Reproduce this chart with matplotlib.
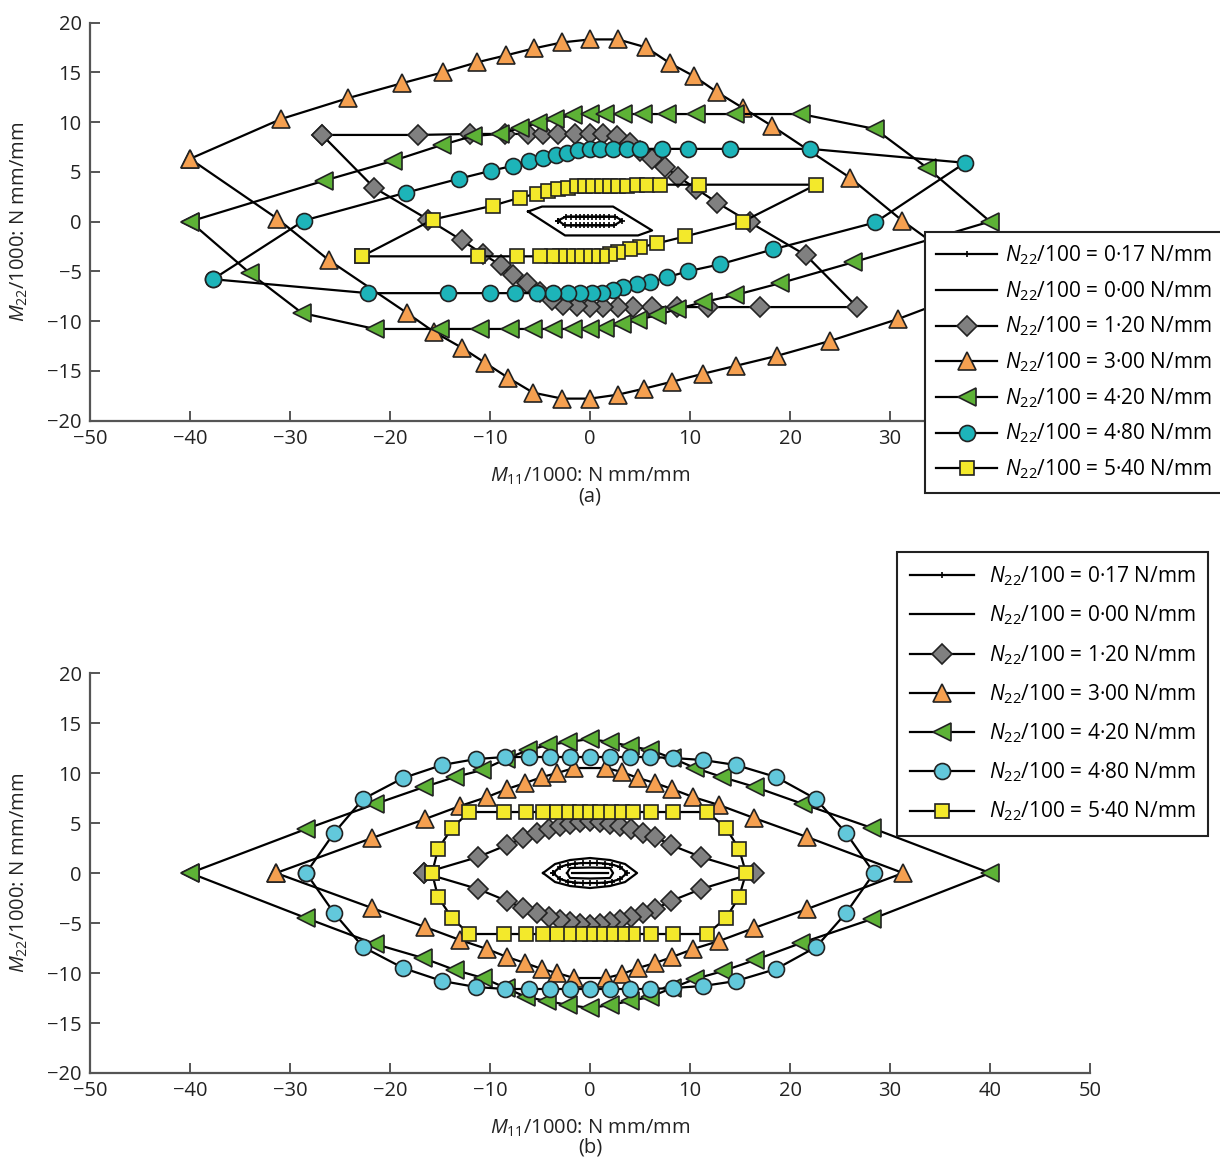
import matplotlib
matplotlib.use("Agg")
import matplotlib.pyplot as plt
import numpy as np

plt.rcParams['font.family'] = ['Open Sans', 'DejaVu Sans']
plt.rcParams['mathtext.fontset'] = 'custom'
plt.rcParams['mathtext.rm'] = 'Open Sans'
plt.rcParams['mathtext.it'] = 'Open Sans:italic'

# legend labels (N22/100 values)
labels = ['0·17', '0·00', '1·20', '3·00', '4·20', '4·80', '5·40']

# ---------------- panel (a) data: closed loops ----------------
a_017_x = [-3.2, -2.4, -1.9, -1.4, -1.0, -0.6, -0.2, 0.2, 0.6, 1.0, 1.4, 1.9, 2.5, 3.2,
           2.4, 1.9, 1.4, 1.0, 0.6, 0.2, -0.2, -0.6, -1.0, -1.4, -1.9, -2.5, -3.2]
a_017_y = [0.1, 0.5, 0.5, 0.5, 0.5, 0.5, 0.5, 0.5, 0.5, 0.5, 0.5, 0.5, 0.5, 0.1,
           -0.4, -0.4, -0.4, -0.4, -0.4, -0.4, -0.4, -0.4, -0.4, -0.4, -0.4, -0.4, 0.1]

a_000_x = [-6.2, -4.8, 2.3, 6.2, 4.8, -2.5, -6.2]
a_000_y = [1.0, 1.5, 1.5, -0.9, -1.4, -1.4, 1.0]

a_120_x = [-26.8, -17.2, -12.0, -8.5, -6.2, -4.7, -3.2, -1.5, 0, 1.3, 2.7, 4.0, 5.0, 6.2, 7.5, 8.8,
           10.6, 12.7, 16.0, 21.6, 26.7,
           17.0, 11.8, 8.7, 6.2, 4.3, 2.8, 1.3, 0, -1.3, -2.7, -3.8, -5.0, -6.3, -7.7, -8.9,
           -10.7, -12.8, -16.2, -21.6, -26.8]
a_120_y = [8.7, 8.7, 8.8, 8.8, 8.8, 8.8, 8.8, 8.8, 8.8, 8.8, 8.6, 7.9, 7.1, 6.3, 5.5, 4.5,
           3.3, 1.9, -0.1, -3.4, -8.6,
           -8.6, -8.6, -8.6, -8.6, -8.6, -8.6, -8.6, -8.6, -8.5, -8.4, -7.9, -7.1, -6.2, -5.4, -4.4,
           -3.3, -1.9, 0.2, 3.4, 8.7]

a_300_x = [-40, -30.9, -24.2, -18.8, -14.7, -11.3, -8.4, -5.6, -2.8, 0, 2.8, 5.6, 8.0, 10.4, 12.7,
           15.3, 18.2, 26.0, 31.2, 40,
           30.8, 24.0, 18.7, 14.6, 11.3, 8.2, 5.4, 2.8, 0, -2.8, -5.7, -8.2, -10.5, -12.8,
           -15.6, -18.3, -26.1, -31.3, -40]
a_300_y = [6.3, 10.3, 12.4, 13.9, 15.0, 16.0, 16.7, 17.4, 18.0, 18.3, 18.3, 17.5, 15.9, 14.6, 13.0,
           11.4, 9.6, 4.4, 0.1, -6.3,
           -9.8, -12.0, -13.5, -14.5, -15.3, -16.1, -16.8, -17.4, -17.8, -17.8, -17.2, -15.7, -14.2, -12.7,
           -11.1, -9.2, -3.9, 0.3, 6.3]

a_420_x = [-40, -26.6, -19.7, -14.8, -11.7, -9.0, -7.0, -5.2, -3.5, -1.7, 0, 1.5, 3.3, 5.3, 7.7,
           10.6, 14.5, 21.1, 28.5, 33.7, 40,
           26.3, 19.0, 14.5, 11.3, 8.7, 6.7, 4.8, 3.2, 1.5, 0, -1.7, -3.7, -5.7, -8.0,
           -11.0, -15.0, -21.5, -28.8, -34.0, -40]
a_420_y = [0, 4.1, 6.1, 7.7, 8.6, 8.8, 9.4, 9.9, 10.3, 10.7, 10.8, 10.8, 10.8, 10.8, 10.8,
           10.8, 10.8, 10.8, 9.3, 5.4, 0,
           -4.1, -6.2, -7.4, -8.1, -8.8, -9.4, -9.9, -10.3, -10.7, -10.8, -10.8, -10.8, -10.8, -10.8,
           -10.8, -10.8, -10.8, -9.2, -5.2, 0]

a_480_x = [-37.7, -28.6, -18.4, -13.1, -9.9, -7.7, -6.1, -4.7, -3.4, -2.3, -1.2, 0, 1.0, 2.3, 3.7,
           5.0, 7.2, 9.8, 14.0, 22.0, 37.5,
           28.5, 18.3, 13.0, 9.8, 7.7, 6.0, 4.7, 3.3, 2.3, 1.2, 0.2, -1.0, -2.2, -3.7,
           -5.3, -7.5, -10.0, -14.2, -22.2, -37.7]
a_480_y = [-5.8, 0.1, 2.9, 4.3, 5.1, 5.6, 6.1, 6.4, 6.7, 6.9, 7.2, 7.3, 7.3, 7.3, 7.3,
           7.3, 7.3, 7.3, 7.3, 7.3, 5.9,
           -0.1, -2.8, -4.3, -5.0, -5.6, -6.1, -6.3, -6.6, -6.9, -7.2, -7.2, -7.2, -7.2, -7.2,
           -7.2, -7.2, -7.2, -7.2, -7.2, -5.8]

a_540_x = [-22.8, -15.7, -9.7, -7.0, -5.3, -4.2, -3.2, -2.2, -1.3, -0.5, 0.3, 1.2, 2.0, 2.8, 3.7,
           4.7, 5.7, 7.0, 10.9, 22.6,
           15.3, 9.5, 6.7, 5.0, 4.0, 2.8, 2.0, 1.2, 0.3, -0.5, -1.3, -2.2, -3.0, -3.8,
           -5.0, -7.3, -11.2, -22.8]
a_540_y = [-3.5, 0.2, 1.6, 2.4, 2.8, 3.1, 3.3, 3.4, 3.6, 3.6, 3.6, 3.6, 3.6, 3.6, 3.6,
           3.7, 3.7, 3.7, 3.7, 3.7,
           0.0, -1.5, -2.2, -2.6, -2.8, -3.1, -3.3, -3.5, -3.5, -3.5, -3.5, -3.5, -3.5, -3.5,
           -3.5, -3.5, -3.5, -3.5]

# ---------------- panel (b) data: closed loops ----------------
b_017_x = [-3.7, -3.0, -2.2, -1.5, -0.7, 0, 0.7, 1.5, 2.2, 3.0, 3.7,
           3.0, 2.2, 1.5, 0.7, 0, -0.7, -1.5, -2.2, -3.0, -3.7]
b_017_y = [0, 0.6, 0.85, 0.95, 1.0, 1.0, 1.0, 0.95, 0.85, 0.6, 0,
           -0.6, -0.85, -0.95, -1.0, -1.0, -1.0, -0.95, -0.85, -0.6, 0]

b_000_x = [-4.7, -3.5, -2.0, 0, 2.0, 3.5, 4.7, 3.5, 2.0, 0, -2.0, -3.5, -4.7, np.nan,
           -2.3, -2.0, 0, 2.0, 2.3, 2.0, 0, -2.0, -2.3, np.nan, -1.8, 1.8]
b_000_y = [0, 0.9, 1.3, 1.5, 1.3, 0.9, 0, -0.9, -1.3, -1.5, -1.3, -0.9, 0, np.nan,
           0, 0.5, 0.55, 0.5, 0, -0.5, -0.55, -0.5, 0, np.nan, 0, 0]

b_120_x = [-16.6, -11.2, -8.3, -6.7, -5.3, -4.1, -3.0, -2.0, -1.0, 0, 1.0, 2.0, 3.0, 4.1, 5.3,
           6.5, 8.1, 11.1, 16.4,
           11.1, 8.1, 6.5, 5.3, 4.1, 3.0, 2.0, 1.0, 0, -1.0, -2.0, -3.0, -4.1, -5.3,
           -6.7, -8.3, -11.2, -16.6]
b_120_y = [0, 1.6, 2.8, 3.5, 4.0, 4.4, 4.7, 4.9, 5.1, 5.2, 5.1, 4.9, 4.7, 4.4, 4.0,
           3.6, 2.8, 1.6, 0,
           -1.6, -2.8, -3.6, -4.0, -4.4, -4.7, -4.9, -5.1, -5.2, -5.1, -4.9, -4.7, -4.4, -4.0,
           -3.5, -2.8, -1.6, 0]

b_300_x = [-31.4, -21.8, -16.5, -13.0, -10.3, -8.3, -6.5, -4.8, -3.3, -1.6, 1.6, 3.2, 4.8, 6.5,
           8.2, 10.3, 12.9, 16.4, 21.7, 31.3,
           21.7, 16.4, 12.9, 10.3, 8.2, 6.5, 4.8, 3.2, 1.6, -1.6, -3.3, -4.8, -6.5,
           -8.3, -10.3, -13.0, -16.5, -21.8, -31.4]
b_300_y = [0, 3.5, 5.4, 6.7, 7.6, 8.4, 9.0, 9.6, 10.0, 10.5, 10.5, 10.1, 9.5, 9.0,
           8.4, 7.6, 6.8, 5.5, 3.6, 0,
           -3.6, -5.5, -6.8, -7.6, -8.4, -9.0, -9.5, -10.1, -10.5, -10.5, -10.0, -9.6, -9.0,
           -8.4, -7.6, -6.7, -5.4, -3.5, 0]

b_420_x = [-40, -28.4, -21.5, -16.6, -13.5, -10.8, -8.4, -6.2, -4.2, -2.2, 0, 2.0, 4.0, 6.0,
           8.2, 10.5, 13.2, 16.5, 21.3, 28.2, 40,
           28.2, 21.1, 16.5, 13.3, 10.5, 8.2, 6.0, 4.0, 2.0, 0, -2.2, -4.3, -6.4,
           -8.4, -10.7, -13.5, -16.7, -21.5, -28.4, -40]
b_420_y = [0, 4.4, 6.9, 8.6, 9.6, 10.3, 11.4, 12.3, 12.8, 13.1, 13.4, 13.1, 12.7, 12.3,
           11.5, 10.5, 9.6, 8.6, 6.9, 4.5, 0,
           -4.6, -7.0, -8.7, -9.8, -10.6, -11.5, -12.4, -12.8, -13.2, -13.5, -13.2, -12.8, -12.4,
           -11.5, -10.5, -9.7, -8.5, -7.1, -4.5, 0]

b_480_x = [-28.4, -25.6, -22.7, -18.7, -14.8, -11.4, -8.5, -6.1, -4.0, -2.0, 0, 2.0, 4.0, 6.0,
           8.3, 11.3, 14.6, 18.6, 22.6, 25.6, 28.4,
           25.6, 22.6, 18.6, 14.6, 11.3, 8.3, 6.0, 4.0, 2.0, 0, -2.0, -4.0, -6.1,
           -8.5, -11.4, -14.8, -18.7, -22.7, -25.6, -28.4]
b_480_y = [0, 4.0, 7.4, 9.5, 10.8, 11.4, 11.6, 11.6, 11.6, 11.6, 11.6, 11.6, 11.6, 11.6,
           11.5, 11.3, 10.8, 9.6, 7.4, 4.0, 0,
           -4.0, -7.4, -9.6, -10.8, -11.3, -11.5, -11.6, -11.6, -11.6, -11.6, -11.6, -11.6, -11.6,
           -11.6, -11.4, -10.8, -9.5, -7.4, -4.0, 0]

b_540_x = [-15.8, -15.2, -13.8, -12.1, -8.6, -6.4, -4.7, -3.3, -2.1, -1.0, 0, 1.0, 2.1, 3.2,
           4.3, 6.1, 8.3, 11.7, 13.6, 14.9, 15.6,
           14.9, 13.6, 11.7, 8.3, 6.1, 4.3, 3.2, 2.1, 1.0, 0, -1.0, -2.1, -3.3,
           -4.7, -6.4, -8.6, -12.1, -13.8, -15.2, -15.8]
b_540_y = [0, 2.4, 4.5, 6.1, 6.1, 6.1, 6.1, 6.1, 6.1, 6.1, 6.1, 6.1, 6.1, 6.1,
           6.1, 6.1, 6.1, 6.1, 4.5, 2.4, 0,
           -2.4, -4.5, -6.1, -6.1, -6.1, -6.1, -6.1, -6.1, -6.1, -6.1, -6.1, -6.1, -6.1,
           -6.1, -6.1, -6.1, -6.1, -4.5, -2.4, 0]

a_series = [(a_017_x, a_017_y), (a_000_x, a_000_y), (a_120_x, a_120_y), (a_300_x, a_300_y),
            (a_420_x, a_420_y), (a_480_x, a_480_y), (a_540_x, a_540_y)]
b_series = [(b_017_x, b_017_y), (b_000_x, b_000_y), (b_120_x, b_120_y), (b_300_x, b_300_y),
            (b_420_x, b_420_y), (b_480_x, b_480_y), (b_540_x, b_540_y)]

# marker styles per series
styles = [
    dict(marker='+', ms=5, mew=1.2),
    dict(marker='None'),
    dict(marker='D', ms=10, mfc='#808080', mec='#222222', mew=1.2),
    dict(marker='^', ms=12.5, mfc='#F5A050', mec='#222222', mew=1.2),
    dict(marker='<', ms=13, mfc='#5DB236', mec='#222222', mew=1.2),
    dict(marker='o', ms=11.5, mfc='#1DB4B9', mec='#222222', mew=1.2),
    dict(marker='s', ms=9.5, mfc='#F3E92B', mec='#222222', mew=1.2),
]
cyan_b = '#62C8DB'
fs = 14.5

fig = plt.figure(figsize=(12.2, 11.6), dpi=100)
ax_a = fig.add_axes([0.0738, 0.6375, 0.8197, 0.3431])
ax_b = fig.add_axes([0.0738, 0.075, 0.8197, 0.3448])


def draw(ax, series, cyan):
    for i, ((xs, ys), lab) in enumerate(zip(series, labels)):
        st = dict(styles[i])
        if i == 5:
            st['mfc'] = cyan
        ax.plot(xs, ys, color='black', lw=1.6, label=r'$N_{22}$/100 = ' + lab + ' N/mm', **st)
    ax.set_xlim(-50, 50)
    ax.set_ylim(-20, 20)
    ax.set_xticks(np.arange(-50, 51, 10))
    ax.set_yticks(np.arange(-20, 21, 5))
    for s in ['top', 'right']:
        ax.spines[s].set_visible(False)
    for s in ['left', 'bottom']:
        ax.spines[s].set_color('#555555')
        ax.spines[s].set_linewidth(1.6)
    ax.tick_params(direction='in', length=7, width=1.4, color='#555555', labelsize=fs,
                   labelcolor='#222222', pad=6)
    ax.set_ylabel(r'$M_{22}$/1000: N mm/mm', fontsize=fs, color='#222222', labelpad=12)
    ax.set_xlabel(r'$M_{11}$/1000: N mm/mm', fontsize=fs, color='#222222', labelpad=12)


draw(ax_a, a_series, '#1DB4B9')
draw(ax_b, b_series, cyan_b)

# in (a) the legend box covers the 40 and 50 tick labels
ax_a.set_xticklabels(['\u221250', '\u221240', '\u221230', '\u221220', '\u221210',
                      '0', '10', '20', '30', '', ''])

fig.text(0.4836, 1 - 497 / 1160, '(a)', ha='center', va='center', fontsize=fs, color='#222222')
fig.text(0.4836, 1 - 1148 / 1160, '(b)', ha='center', va='center', fontsize=fs, color='#222222')

leg_a = ax_a.legend(loc='upper left', bbox_to_anchor=(925 / 1220, 1 - 232 / 1160),
                    bbox_transform=fig.transFigure, borderaxespad=0, fontsize=15,
                    handlelength=2.9, handletextpad=0.4, labelspacing=0.58, borderpad=0.55,
                    fancybox=False, framealpha=1, edgecolor='#222222')
leg_a.get_frame().set_linewidth(1.5)
leg_b = ax_b.legend(loc='upper left', bbox_to_anchor=(897 / 1220, 1 - 552 / 1160),
                    bbox_transform=fig.transFigure, borderaxespad=0, fontsize=15,
                    handlelength=3.1, handletextpad=0.7, labelspacing=0.75, borderpad=0.6,
                    fancybox=False, framealpha=1, edgecolor='#222222')
leg_b.get_frame().set_linewidth(1.5)

fig.savefig('out.png', dpi=100)
